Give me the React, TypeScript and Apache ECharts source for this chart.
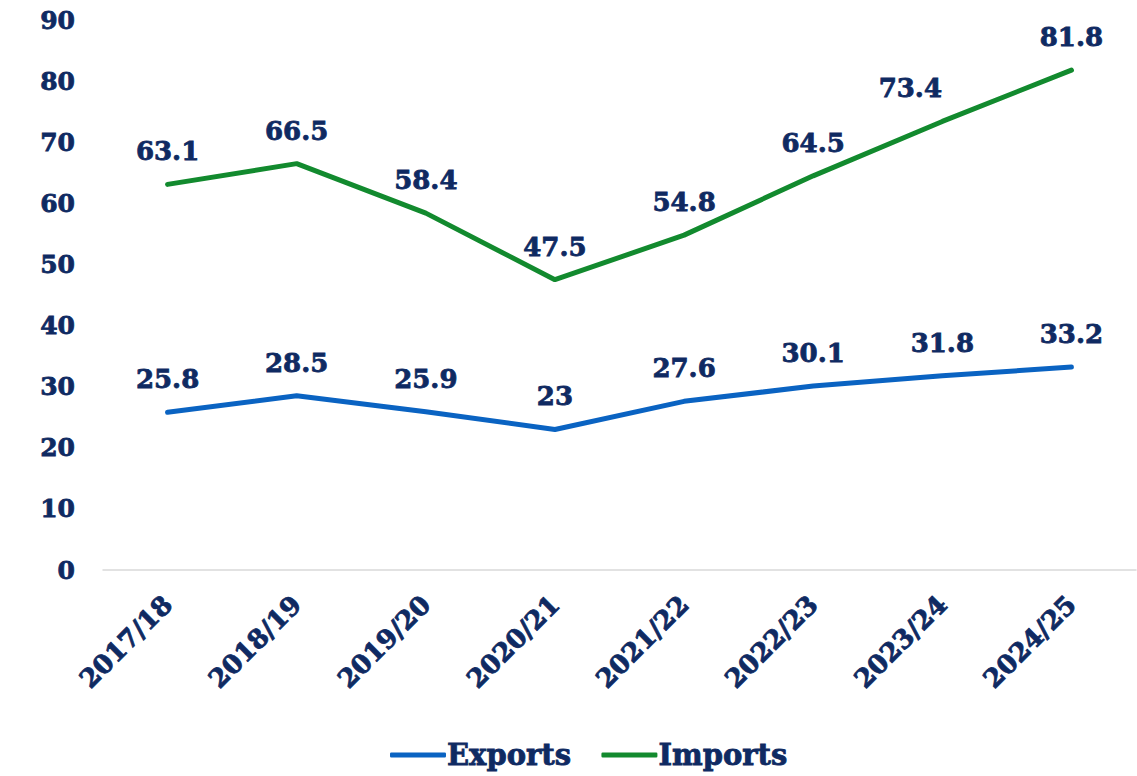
import React, { useEffect, useRef } from "react";
import * as echarts from "echarts";

const categories = ["2017/18", "2018/19", "2019/20", "2020/21", "2021/22", "2022/23", "2023/24", "2024/25"];
const exportsValues = [25.8, 28.5, 25.9, 23, 27.6, 30.1, 31.8, 33.2];
const importsValues = [63.1, 66.5, 58.4, 47.5, 54.8, 64.5, 73.4, 81.8];
const seriesNames = ["Exports", "Imports"];

const NAVY = "#0f2a62";
const FONT = "'DejaVu Serif', 'Liberation Serif', serif";
const EXP_COLOR = "#0a63c2";
const IMP_COLOR = "#128a2e";

export default function App() {
  const ref = useRef<HTMLDivElement>(null);
  useEffect(() => {
    if (!ref.current) return;
    const chart = echarts.init(ref.current, null, { renderer: "svg" });
    const heavy = { textBorderColor: NAVY, textBorderWidth: 0.8 };
    const labelStyle = {
      show: true,
      position: "top" as const,
      distance: 20,
      color: NAVY,
      fontFamily: FONT,
      fontWeight: "bold" as const,
      fontSize: 26,
      ...heavy,
    };
    chart.setOption({
      animation: false,
      backgroundColor: "#ffffff",
      textStyle: { fontFamily: FONT },
      grid: { left: 103, right: 1, top: 20, bottom: 206 },
      legend: {
        bottom: 1,
        left: 385,
        icon: "roundRect",
        itemWidth: 56,
        itemHeight: 5,
        itemGap: 30,
        textStyle: { color: NAVY, fontFamily: FONT, fontWeight: "bold", fontSize: 29, padding: [0, 0, 0, -4], ...heavy },
        data: seriesNames,
      },
      xAxis: {
        type: "category",
        data: categories,
        boundaryGap: true,
        axisLine: { lineStyle: { color: "#d9d9d9", width: 1.5 } },
        axisTick: { show: false },
        axisLabel: {
          rotate: 45,
          margin: 30,
          color: NAVY,
          fontFamily: FONT,
          fontWeight: "bold",
          fontSize: 26,
          interval: 0,
          ...heavy,
        },
      },
      yAxis: {
        type: "value",
        min: 0,
        max: 90,
        interval: 10,
        splitLine: { show: false },
        axisLine: { show: false },
        axisTick: { show: false },
        axisLabel: {
          margin: 28,
          color: NAVY,
          fontFamily: FONT,
          fontWeight: "bold",
          fontSize: 25,
          ...heavy,
        },
      },
      series: [
        {
          name: seriesNames[0],
          type: "line",
          data: exportsValues,
          symbol: "circle",
          symbolSize: 0,
          showSymbol: true,
          lineStyle: { color: EXP_COLOR, width: 5, cap: "round" },
          itemStyle: { color: EXP_COLOR },
          label: labelStyle,
        },
        {
          name: seriesNames[1],
          type: "line",
          data: importsValues.map((v, i) =>
            i === 6 ? { value: v, label: { offset: [-32, 0] } } : v
          ),
          symbol: "circle",
          symbolSize: 0,
          showSymbol: true,
          lineStyle: { color: IMP_COLOR, width: 5, cap: "round" },
          itemStyle: { color: IMP_COLOR },
          label: labelStyle,
        },
      ],
    });
    return () => chart.dispose();
  }, []);
  return <div ref={ref} style={{ position: "fixed", left: 0, top: 0, width: 1137, height: 776 }} />;
}
